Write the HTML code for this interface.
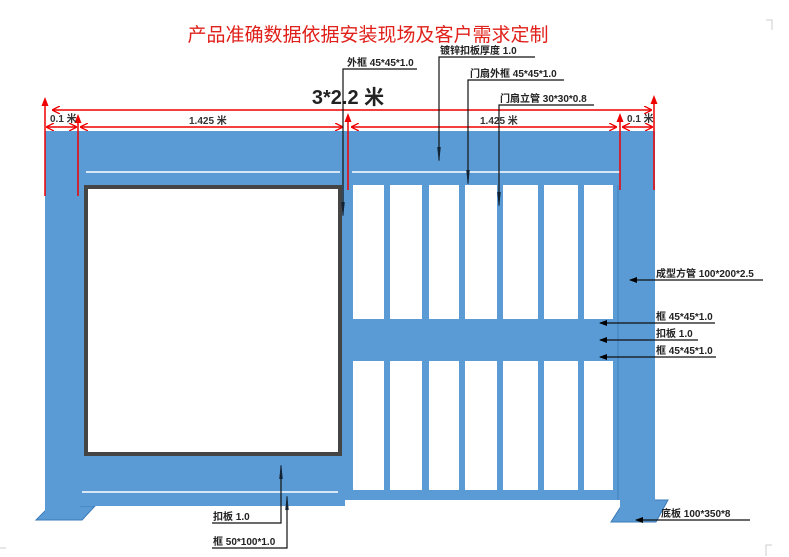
<!DOCTYPE html>
<html><head><meta charset="utf-8"><style>
html,body{margin:0;padding:0;background:#fff;}
svg{display:block;}
text{font-family:"Liberation Sans","Noto Sans CJK SC",sans-serif;}
</style></head><body>
<svg width="789" height="557" viewBox="0 0 789 557" xmlns="http://www.w3.org/2000/svg">
<defs>
<marker id="ra" markerWidth="8" markerHeight="8" refX="7" refY="4" orient="auto" markerUnits="userSpaceOnUse"><path d="M0,0 L8,4 L0,8" fill="none" stroke="#e00" stroke-width="1.3"/></marker>
<marker id="rs" markerWidth="8" markerHeight="8" refX="1" refY="4" orient="auto" markerUnits="userSpaceOnUse"><path d="M8,0 L0,4 L8,8" fill="none" stroke="#e00" stroke-width="1.3"/></marker>
<marker id="ba" markerWidth="8" markerHeight="8" refX="7" refY="4" orient="auto" markerUnits="userSpaceOnUse"><path d="M0,1 L8,4 L0,7 Z" fill="#000"/></marker>
<marker id="bn" markerWidth="14" markerHeight="6" refX="13" refY="3" orient="auto" markerUnits="userSpaceOnUse"><path d="M0,1.5 L14,3 L0,4.5 Z" fill="#123" stroke="#123" stroke-width="0.5"/></marker>
</defs>

<text x="368" y="41" text-anchor="middle" font-size="19" fill="#e0201a">产品准确数据依据安装现场及客户需求定制</text>

<polygon points="36,520 82,520 95,506 50,506" fill="#5b9bd5" stroke="#3a78b5" stroke-width="1"/>
<polygon points="611,522 656,522 668,500 625,500" fill="#5b9bd5" stroke="#3a78b5" stroke-width="1"/>

<rect x="45" y="131" width="35" height="381" fill="#5b9bd5"/>
<rect x="80" y="131" width="265" height="375" fill="#5b9bd5"/>
<rect x="345" y="131" width="276" height="369" fill="#5b9bd5"/>
<rect x="620" y="131" width="35" height="382" fill="#5b9bd5"/>
<line x1="618" y1="185" x2="618" y2="500" stroke="#3f7fbf" stroke-width="1"/>

<line x1="86" y1="172" x2="340" y2="172" stroke="#fff" stroke-width="1.5"/>
<line x1="352" y1="172" x2="620" y2="172" stroke="#fff" stroke-width="1.5"/>
<line x1="82" y1="492" x2="338" y2="492" stroke="#fff" stroke-width="1.5"/>

<rect x="86" y="187" width="254" height="267" fill="#fff" stroke="#444" stroke-width="4"/>

<g fill="#fff">
<rect x="353" y="185" width="31" height="134"/><rect x="390" y="185" width="32" height="134"/>
<rect x="429" y="185" width="30" height="134"/><rect x="465" y="185" width="32" height="134"/>
<rect x="503" y="185" width="35" height="134"/><rect x="544" y="185" width="34" height="134"/>
<rect x="584" y="185" width="29" height="134"/>
<rect x="353" y="361" width="31" height="129"/><rect x="390" y="361" width="32" height="129"/>
<rect x="429" y="361" width="30" height="129"/><rect x="465" y="361" width="32" height="129"/>
<rect x="503" y="361" width="35" height="129"/><rect x="544" y="361" width="34" height="129"/>
<rect x="584" y="361" width="29" height="129"/>
</g>

<g stroke="#e00" stroke-width="1.5" fill="none">
<line x1="53" y1="110" x2="651" y2="110" marker-start="url(#rs)" marker-end="url(#ra)"/>
<line x1="47" y1="127" x2="76" y2="127" marker-start="url(#rs)" marker-end="url(#ra)"/>
<line x1="81" y1="127" x2="342" y2="127" marker-start="url(#rs)" marker-end="url(#ra)"/>
<line x1="352" y1="127" x2="616" y2="127" marker-start="url(#rs)" marker-end="url(#ra)"/>
<line x1="623" y1="127" x2="652" y2="127" marker-start="url(#rs)" marker-end="url(#ra)"/>
<line x1="45" y1="104" x2="45" y2="196"/>
<line x1="78" y1="121" x2="78" y2="196"/>
<line x1="348" y1="120" x2="348" y2="190"/>
<line x1="620" y1="120" x2="620" y2="190"/>
<line x1="654" y1="102" x2="654" y2="190"/>
</g>
<g fill="#e00">
<polygon points="45,97 41.5,106 48.5,106"/>
<polygon points="78,114 74.5,123 81.5,123"/>
<polygon points="348,113 344.5,122 351.5,122"/>
<polygon points="620,113 616.5,122 623.5,122"/>
<polygon points="654,95 650.5,104 657.5,104"/>
</g>
<text x="348" y="104" text-anchor="middle" font-size="20" font-weight="bold" fill="#222">3*2.2 米</text>
<g font-size="10" font-weight="bold" fill="#333">
<text x="50" y="122">0.1 米</text>
<text x="189" y="124">1.425 米</text>
<text x="480" y="124">1.425 米</text>
<text x="627" y="122">0.1 米</text>
</g>

<g stroke="#111" stroke-width="1.2" fill="none">
<polyline points="417,69 343,69 343,215" marker-end="url(#bn)"/>
<polyline points="535,57 439,57 439,160" marker-end="url(#bn)"/>
<polyline points="564,80 468,80 468,183" marker-end="url(#bn)"/>
<polyline points="594,105 499,105 499,205" marker-end="url(#bn)"/>
<polyline points="212,523 281,523 281,466" marker-end="url(#bn)"/>
<polyline points="212,548 287,548 287,497" marker-end="url(#bn)"/>
<line x1="763" y1="280" x2="630" y2="280" marker-end="url(#ba)"/>
<line x1="715" y1="323" x2="600" y2="323" marker-end="url(#ba)"/>
<line x1="698" y1="340" x2="600" y2="340" marker-end="url(#ba)"/>
<line x1="716" y1="357" x2="600" y2="357" marker-end="url(#ba)"/>
<line x1="750" y1="520" x2="636" y2="520" marker-end="url(#ba)"/>
</g>
<g font-size="10" font-weight="bold" fill="#222">
<text x="347" y="66">外框 45*45*1.0</text>
<text x="440" y="54">镀锌扣板厚度 1.0</text>
<text x="470" y="77">门扇外框 45*45*1.0</text>
<text x="500" y="102">门扇立管 30*30*0.8</text>
<text x="656" y="277">成型方管 100*200*2.5</text>
<text x="656" y="320">框 45*45*1.0</text>
<text x="656" y="337">扣板 1.0</text>
<text x="656" y="354">框 45*45*1.0</text>
<text x="661" y="517">底板 100*350*8</text>
<text x="213" y="520">扣板 1.0</text>
<text x="213" y="545">框 50*100*1.0</text>
</g>
<g stroke="#ccc" stroke-width="1" fill="none">
<polyline points="0,548 6,548"/><polyline points="766,556 766,545 772,545"/><polyline points="766,20 772,20 772,30"/>
</g>
</svg>
</body></html>
